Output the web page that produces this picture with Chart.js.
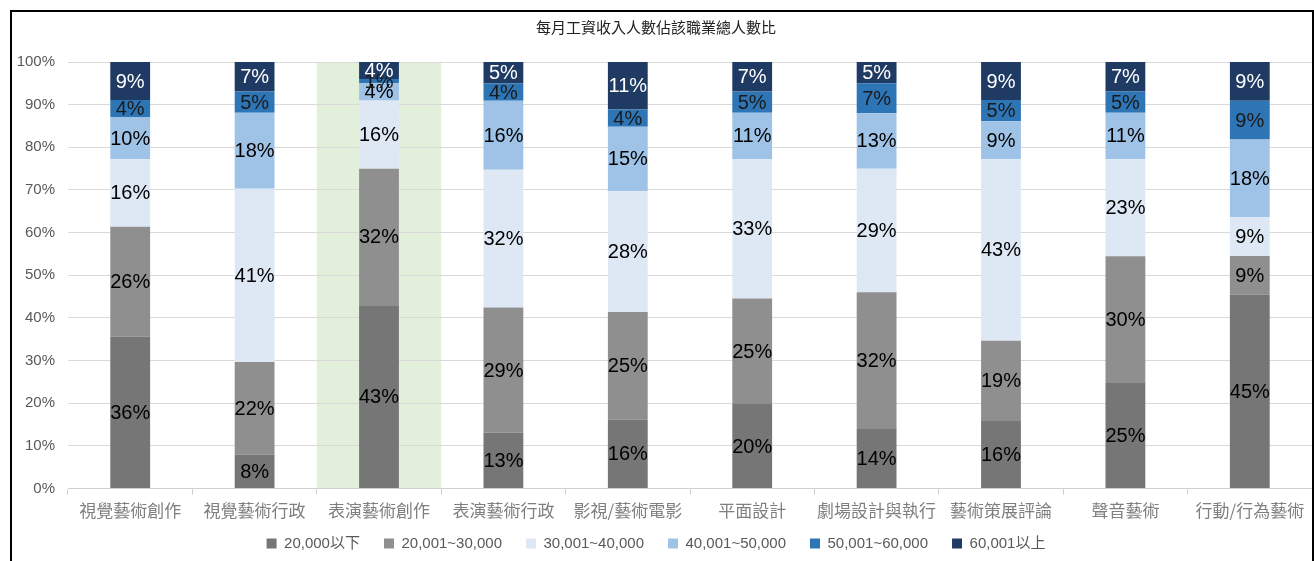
<!doctype html>
<html>
<head>
<meta charset="utf-8">
<title>每月工資收入人數佔該職業總人數比</title>
<script src="https://cdn.jsdelivr.net/npm/chart.js@4"></script>
<style>
  html, body { margin: 0; padding: 0; background: #fff; }
  #wrap { width: 1314px; height: 561px; }
</style>
</head>
<body>
<div id="wrap"><canvas id="salaryChart" width="1314" height="561"></canvas></div>
<script>
// categories (occupations)
var categories = ['視覺藝術創作', '視覺藝術行政', '表演藝術創作', '表演藝術行政', '影視/藝術電影',
  '平面設計', '劇場設計與執行', '藝術策展評論', '聲音藝術', '行動/行為藝術'];

// income bands
var seriesNames = ['20,000以下', '20,001~30,000', '30,001~40,000', '40,001~50,000', '50,001~60,000', '60,001以上'];

// percentages, one array per band
var under20k  = [36, 8, 43, 13, 16, 20, 14, 16, 25, 45];
var k20to30   = [26, 22, 32, 29, 25, 25, 32, 19, 30, 9];
var k30to40   = [16, 41, 16, 32, 28, 33, 29, 43, 23, 9];
var k40to50   = [10, 18, 4, 16, 15, 11, 13, 9, 11, 18];
var k50to60   = [4, 5, 1, 4, 4, 5, 7, 5, 5, 9];
var over60k   = [9, 7, 4, 5, 11, 7, 5, 9, 7, 9];

var yTicks = [0, 10, 20, 30, 40, 50, 60, 70, 80, 90, 100];
var highlightIndex = 2; // 表演藝術創作

var colors = ['#767676', '#8f8f8f', '#dde8f4', '#9fc3e7', '#2e75b6', '#1f3b64'];
var labelColors = ['#000', '#000', '#000', '#000', '#1a1a1a', '#fff'];

var raw = [under20k, k20to30, k30to40, k40to50, k50to60, over60k];

// 100% stacked: scale each column to its total
var totals = categories.map(function(c, i) {
  var s = 0;
  raw.forEach(function(arr) { s += arr[i]; });
  return s;
});

var datasets = raw.map(function(arr, k) {
  return {
    label: seriesNames[k],
    data: arr.map(function(v, i) { return v / totals[i] * 100; }),
    rawValues: arr,
    backgroundColor: colors[k],
    borderWidth: 0,
    barPercentage: 0.32,
    categoryPercentage: 1.0
  };
});

var LEGEND_TRIM = 15;

var frame = {
  id: 'frame',
  beforeLayout: function(chart) {
    // legend sits closer to the axis labels than chart.js would put it
    var lg = chart.legend;
    if (lg && !lg._trimmed) {
      var fit = lg.fit;
      lg.fit = function() { fit.call(this); this.height -= LEGEND_TRIM; };
      lg._trimmed = true;
    }
  },
  afterLayout: function(chart) {
    if (chart.legend) {
      chart.legend.top -= LEGEND_TRIM;
      chart.legend.height += LEGEND_TRIM;
    }
  },
  beforeDraw: function(chart) {
    var ctx = chart.ctx, a = chart.chartArea;
    var w = (a.right - a.left) / categories.length;
    ctx.save();
    ctx.fillStyle = '#e2efda';
    ctx.fillRect(a.left + w * highlightIndex, a.top, w, a.bottom - a.top);
    ctx.restore();
  },
  afterDraw: function(chart) {
    var ctx = chart.ctx;
    ctx.save();
    ctx.strokeStyle = '#000';
    ctx.lineWidth = 2;
    ctx.strokeRect(11, 11, 1302, 560);
    ctx.restore();
  }
};

var barLabels = {
  id: 'barLabels',
  afterDatasetsDraw: function(chart) {
    var ctx = chart.ctx;
    ctx.save();
    ctx.font = '20px "Liberation Sans", Arial, sans-serif';
    ctx.textAlign = 'center';
    ctx.textBaseline = 'middle';
    chart.data.datasets.forEach(function(ds, k) {
      var meta = chart.getDatasetMeta(k);
      meta.data.forEach(function(bar, i) {
        var y = (bar.y + bar.base) / 2;
        ctx.fillStyle = labelColors[k];
        ctx.fillText(ds.rawValues[i] + '%', bar.x, y + 1);
      });
    });
    ctx.restore();
  }
};

var ctx = document.getElementById('salaryChart').getContext('2d');
new Chart(ctx, {
  type: 'bar',
  data: { labels: categories, datasets: datasets },
  options: {
    responsive: false,
    animation: false,
    layout: { padding: { top: 10, right: 2, left: 0, bottom: 0 } },
    plugins: {
      title: {
        display: true,
        text: '每月工資收入人數佔該職業總人數比',
        color: '#222',
        font: { size: 15, family: '"Noto Sans CJK TC", sans-serif', weight: 'normal' },
        padding: { top: 8, bottom: 26 }
      },
      legend: {
        position: 'bottom',
        labels: {
          boxWidth: 10,
          boxHeight: 10,
          padding: 24,
          color: '#595959',
          font: { size: 15, family: '"Liberation Sans", "Noto Sans CJK TC", sans-serif' }
        }
      },
      tooltip: { enabled: false }
    },
    scales: {
      x: {
        stacked: true,
        grid: { drawOnChartArea: false, color: '#d0d0d0', tickLength: 6 },
        border: { color: '#d0d0d0' },
        ticks: {
          color: '#7f7f7f',
          padding: 6,
          maxRotation: 0,
          autoSkip: false,
          font: { size: 17, family: '"Noto Sans CJK TC", sans-serif' }
        }
      },
      y: {
        stacked: true,
        min: 0,
        max: 100,
        afterFit: function(scale) { scale.width = 68; },
        afterBuildTicks: function(scale) {
          scale.ticks = yTicks.map(function(v) { return { value: v }; });
        },
        grid: { color: '#d9d9d9', drawTicks: false },
        border: { display: false },
        ticks: {
          color: '#595959',
          padding: 13,
          font: { size: 15, family: '"Liberation Sans", Arial, sans-serif' },
          callback: function(v) { return v + '%'; }
        }
      }
    }
  },
  plugins: [frame, barLabels]
});
</script>
</body>
</html>
